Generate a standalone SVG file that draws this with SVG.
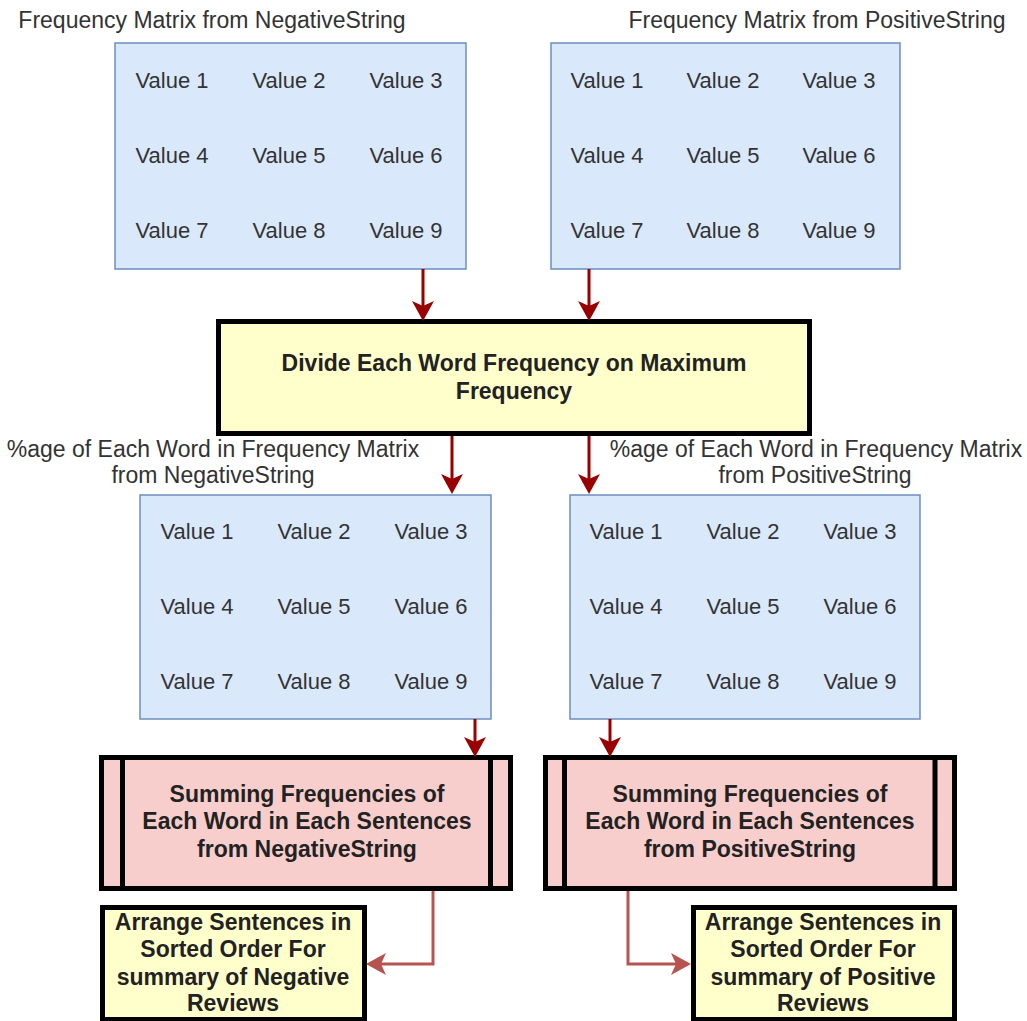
<svg xmlns="http://www.w3.org/2000/svg" width="1027" height="1021" viewBox="0 0 1027 1021">
<style>
.lbl{font-family:"Liberation Sans",Arial,sans-serif;font-size:23px;fill:#333;text-anchor:middle}
.val{font-family:"Liberation Sans",Arial,sans-serif;font-size:22px;fill:#333;text-anchor:middle}
.bold{font-family:"Liberation Sans",Arial,sans-serif;font-size:23px;font-weight:bold;fill:#222;text-anchor:middle}
.matrix{fill:#dae8fc;stroke:#6c8ebf;stroke-width:1.5}
.proc{fill:#ffffcc;stroke:#000;stroke-width:5}
.sub{fill:#f8cecc;stroke:#000;stroke-width:5}
.dk{fill:none;stroke:#990000;stroke-width:3}
.lt{fill:none;stroke:#b85450;stroke-width:3}
</style>
<defs>
<marker id="ahDark" viewBox="0 0 20 22" refX="5" refY="11" markerWidth="20" markerHeight="22" markerUnits="userSpaceOnUse" orient="auto">
<path d="M0,0 L20,11 L0,22 L5,11 z" fill="#990000"/>
</marker>
<marker id="ahLight" viewBox="0 0 20 22" refX="5" refY="11" markerWidth="20" markerHeight="22" markerUnits="userSpaceOnUse" orient="auto">
<path d="M0,0 L20,11 L0,22 L5,11 z" fill="#b85450"/>
</marker>
</defs>

<g id="matrixNegTop">
<text class="lbl" x="212" y="28">Frequency Matrix from NegativeString</text>
<rect class="matrix" x="115" y="43" width="351" height="226"/>
<text class="val" x="172" y="88">Value 1</text><text class="val" x="289" y="88">Value 2</text><text class="val" x="406" y="88">Value 3</text>
<text class="val" x="172" y="163">Value 4</text><text class="val" x="289" y="163">Value 5</text><text class="val" x="406" y="163">Value 6</text>
<text class="val" x="172" y="238">Value 7</text><text class="val" x="289" y="238">Value 8</text><text class="val" x="406" y="238">Value 9</text>
</g>

<g id="matrixPosTop">
<text class="lbl" x="817" y="28">Frequency Matrix from PositiveString</text>
<rect class="matrix" x="551" y="43" width="349" height="226"/>
<text class="val" x="607" y="88">Value 1</text><text class="val" x="723" y="88">Value 2</text><text class="val" x="839" y="88">Value 3</text>
<text class="val" x="607" y="163">Value 4</text><text class="val" x="723" y="163">Value 5</text><text class="val" x="839" y="163">Value 6</text>
<text class="val" x="607" y="238">Value 7</text><text class="val" x="723" y="238">Value 8</text><text class="val" x="839" y="238">Value 9</text>
</g>

<g id="divide">
<rect class="proc" x="218.5" y="321.5" width="591" height="112"/>
<text class="bold" x="514" y="371">Divide Each Word Frequency on Maximum</text>
<text class="bold" x="514" y="399">Frequency</text>
</g>

<g id="matrixNegPct">
<text class="lbl" x="213" y="457">%age of Each Word in Frequency Matrix</text>
<text class="lbl" x="213" y="483">from NegativeString</text>
<rect class="matrix" x="140" y="495" width="351" height="224"/>
<text class="val" x="197" y="539">Value 1</text><text class="val" x="314" y="539">Value 2</text><text class="val" x="431" y="539">Value 3</text>
<text class="val" x="197" y="614">Value 4</text><text class="val" x="314" y="614">Value 5</text><text class="val" x="431" y="614">Value 6</text>
<text class="val" x="197" y="689">Value 7</text><text class="val" x="314" y="689">Value 8</text><text class="val" x="431" y="689">Value 9</text>
</g>

<g id="matrixPosPct">
<text class="lbl" x="816" y="457">%age of Each Word in Frequency Matrix</text>
<text class="lbl" x="815" y="483">from PositiveString</text>
<rect class="matrix" x="570" y="495" width="350" height="224"/>
<text class="val" x="626" y="539">Value 1</text><text class="val" x="743" y="539">Value 2</text><text class="val" x="860" y="539">Value 3</text>
<text class="val" x="626" y="614">Value 4</text><text class="val" x="743" y="614">Value 5</text><text class="val" x="860" y="614">Value 6</text>
<text class="val" x="626" y="689">Value 7</text><text class="val" x="743" y="689">Value 8</text><text class="val" x="860" y="689">Value 9</text>
</g>

<g id="sumNeg">
<rect class="sub" x="101.5" y="757.5" width="409" height="131"/>
<line x1="122.5" y1="757.5" x2="122.5" y2="888.5" stroke="#000" stroke-width="5"/>
<line x1="490.5" y1="757.5" x2="490.5" y2="888.5" stroke="#000" stroke-width="5"/>
<text class="bold" x="307" y="802">Summing Frequencies of</text>
<text class="bold" x="307" y="829">Each Word in Each Sentences</text>
<text class="bold" x="307" y="857">from NegativeString</text>
</g>

<g id="sumPos">
<rect class="sub" x="545.5" y="757.5" width="409" height="131"/>
<line x1="564.5" y1="757.5" x2="564.5" y2="888.5" stroke="#000" stroke-width="5"/>
<line x1="935" y1="757.5" x2="935" y2="888.5" stroke="#000" stroke-width="5"/>
<text class="bold" x="750" y="802">Summing Frequencies of</text>
<text class="bold" x="750" y="829">Each Word in Each Sentences</text>
<text class="bold" x="750" y="857">from PositiveString</text>
</g>

<g id="arrangeNeg">
<rect class="proc" x="102.5" y="907.5" width="262" height="112"/>
<text class="bold" x="233" y="930">Arrange Sentences in</text>
<text class="bold" x="233" y="957">Sorted Order For</text>
<text class="bold" x="233" y="985">summary of Negative</text>
<text class="bold" x="233" y="1011">Reviews</text>
</g>

<g id="arrangePos">
<rect class="proc" x="693.5" y="907.5" width="261" height="112"/>
<text class="bold" x="823" y="930">Arrange Sentences in</text>
<text class="bold" x="823" y="957">Sorted Order For</text>
<text class="bold" x="823" y="985">summary of Positive</text>
<text class="bold" x="823" y="1011">Reviews</text>
</g>

<g id="connectors">
<path class="dk" d="M423,269 V306" marker-end="url(#ahDark)"/>
<path class="dk" d="M589,269 V306" marker-end="url(#ahDark)"/>
<path class="dk" d="M452,436 V479" marker-end="url(#ahDark)"/>
<path class="dk" d="M589,436 V479" marker-end="url(#ahDark)"/>
<path class="dk" d="M475,719 V742" marker-end="url(#ahDark)"/>
<path class="dk" d="M610,719 V742" marker-end="url(#ahDark)"/>
<path class="lt" d="M433,891 V964 H381" marker-end="url(#ahLight)"/>
<path class="lt" d="M628,891 V964 H676" marker-end="url(#ahLight)"/>
</g>
</svg>
